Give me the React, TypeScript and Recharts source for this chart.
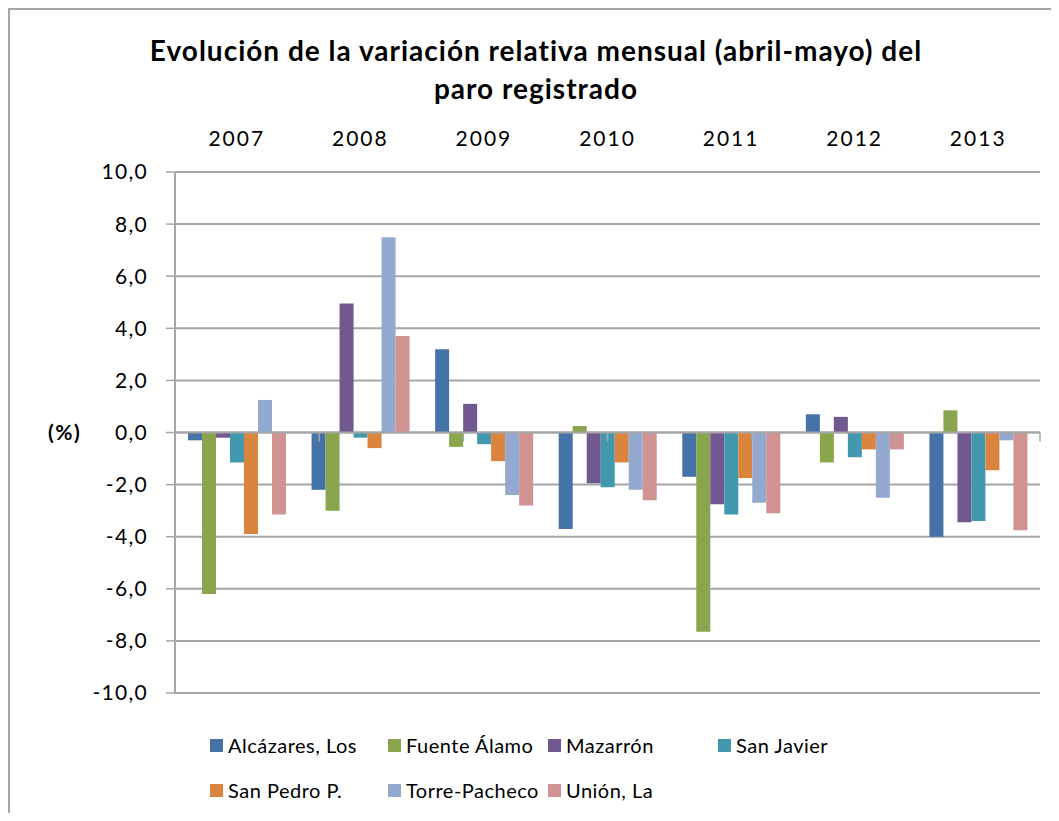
import React from "react";
import { BarChart, Bar, XAxis, YAxis, CartesianGrid, ReferenceLine } from "recharts";

const years = ["2007", "2008", "2009", "2010", "2011", "2012", "2013"];

// variación relativa mensual abril-mayo (%)
const alcazares = [-0.3, -2.2, 3.2, -3.7, -1.7, 0.7, -4.0];
const fuenteAlamo = [-6.2, -3.0, -0.55, 0.25, -7.65, -1.15, 0.85];
const mazarron = [-0.2, 4.95, 1.1, -1.95, -2.75, 0.6, -3.45];
const sanJavier = [-1.15, -0.2, -0.45, -2.1, -3.15, -0.95, -3.4];
const sanPedro = [-3.9, -0.6, -1.1, -1.15, -1.75, -0.65, -1.45];
const torrePacheco = [1.25, 7.5, -2.4, -2.2, -2.7, -2.5, -0.3];
const unionLa = [-3.15, 3.7, -2.8, -2.6, -3.1, -0.65, -3.75];

const yTicks = [-10, -8, -6, -4, -2, 0, 2, 4, 6, 8, 10];

const series = [
  { key: "alcazares", name: "Alcázares, Los", color: "#4572A7", values: alcazares },
  { key: "fuenteAlamo", name: "Fuente Álamo", color: "#89A54E", values: fuenteAlamo },
  { key: "mazarron", name: "Mazarrón", color: "#71588F", values: mazarron },
  { key: "sanJavier", name: "San Javier", color: "#4198AF", values: sanJavier },
  { key: "sanPedro", name: "San Pedro P.", color: "#DB843D", values: sanPedro },
  { key: "torrePacheco", name: "Torre-Pacheco", color: "#93A9CF", values: torrePacheco },
  { key: "unionLa", name: "Unión, La", color: "#D19392", values: unionLa },
];

const data = years.map((year, i) => {
  const row: Record<string, string | number> = { year };
  series.forEach((s) => {
    row[s.key] = s.values[i];
  });
  return row;
});

const FONT = "Lato, 'Open Sans', sans-serif";
const GRID = "#A6A6A6";

// legend slots: 4 columns, 2 rows
const legendCols = [202, 380, 540, 710];
const legendRows = [737, 782];

const fmt = (v: number) => v.toFixed(1).replace(".", ",");

const App = () => {
  return (
    <div style={{ position: "relative", width: 1043, height: 805, fontFamily: FONT }}>
      <div
        style={{
          position: "absolute",
          left: 0,
          top: 0,
          width: 1043,
          height: 813,
          boxSizing: "border-box",
          borderLeft: `2px solid ${GRID}`,
          borderTop: `2px solid ${GRID}`,
          zIndex: 2,
          pointerEvents: "none",
        }}
      />
      <div
        style={{
          position: "absolute",
          left: 0,
          top: 23,
          width: 1056,
          textAlign: "center",
          fontSize: 28,
          fontWeight: 700,
          letterSpacing: 1,
          lineHeight: "38px",
          color: "#000",
          whiteSpace: "nowrap",
        }}
      >
        Evolución de la variación relativa mensual (abril-mayo) del
        <br />
        paro registrado
      </div>
      <BarChart
        width={1043}
        height={805}
        data={data}
        margin={{ top: 124, right: 11, bottom: 120, left: 0 }}
        barCategoryGap={13}
        barGap={0}
        style={{ position: "absolute", left: 0, top: 0 }}
      >
        <CartesianGrid vertical={false} stroke={GRID} strokeWidth={2} />
        <XAxis
          xAxisId="cat"
          dataKey="year"
          orientation="top"
          height={40}
          axisLine={false}
          tickLine={false}
          tickSize={0}
          tickMargin={26}
          tick={{ fontSize: 21, fill: "#000", fontFamily: FONT, letterSpacing: 2 }}
        />
        <XAxis xAxisId="sep" type="number" domain={[0, years.length]} hide />
        <YAxis
          width={167}
          domain={[-10, 10]}
          ticks={yTicks}
          interval={0}
          tickFormatter={fmt}
          axisLine={{ stroke: GRID, strokeWidth: 2 }}
          tickLine={{ stroke: GRID, strokeWidth: 1.5 }}
          tickSize={9}
          tickMargin={18}
          tick={{ fontSize: 21, fill: "#000", fontFamily: FONT, letterSpacing: 1.3 }}
          label={{
            value: "(%)",
            position: "insideLeft",
            offset: 40,
            fontSize: 21,
            fontWeight: 700,
            fill: "#000",
            fontFamily: FONT,
            letterSpacing: 1.5,
          }}
        />
        <ReferenceLine xAxisId="cat" y={0} stroke={GRID} strokeWidth={2} />
        {Array.from({ length: years.length + 1 }, (_, i) => (
          <ReferenceLine
            key={`sep-${i}`}
            xAxisId="sep"
            segment={[
              { x: i, y: 0 },
              { x: i, y: -0.35 },
            ]}
            stroke={GRID}
            strokeWidth={1.5}
          />
        ))}
        {series.map((s) => (
          <Bar
            key={s.key}
            xAxisId="cat"
            dataKey={s.key}
            name={s.name}
            fill={s.color}
            isAnimationActive={false}
          />
        ))}
      </BarChart>
      {series.map((s, i) => (
        <div
          key={s.key}
          style={{
            position: "absolute",
            left: legendCols[i < 4 ? i : i - 4],
            top: legendRows[i < 4 ? 0 : 1] - 12,
            height: 24,
            display: "flex",
            alignItems: "center",
            fontSize: 20,
            letterSpacing: 0.5,
            color: "#000",
            whiteSpace: "nowrap",
          }}
        >
          <span style={{ width: 13, height: 13, background: s.color, marginRight: 5, display: "inline-block" }} />
          {s.name}
        </div>
      ))}
    </div>
  );
};

export default App;
